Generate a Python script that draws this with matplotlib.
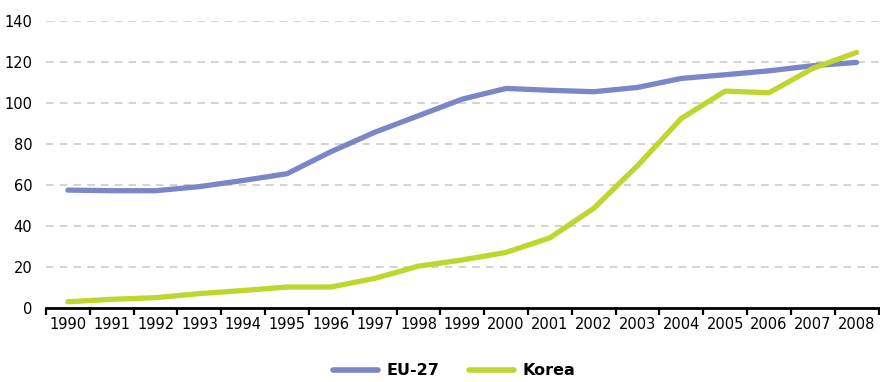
import matplotlib
matplotlib.use("Agg")
import matplotlib.pyplot as plt
import numpy as np

years = [str(y) for y in range(1990, 2009)]
eu27 = [57.3, 57.0, 57.0, 59.0, 62.0, 65.3, 76.0, 85.5, 93.6, 101.7,
        106.9, 106.0, 105.3, 107.4, 111.8, 113.6, 115.5, 118.0, 119.6]
korea = [2.8, 4.0, 4.8, 6.8, 8.3, 10.0, 10.0, 14.2, 20.2, 23.2,
         26.9, 34.0, 48.4, 69.2, 92.3, 105.6, 104.8, 116.7, 124.5]
yticks = [0, 20, 40, 60, 80, 100, 120, 140]

plt.rcParams["font.family"] = ["DejaVu Sans"]

fig = plt.figure(figsize=(8.8, 3.82), dpi=100)
ax = fig.add_axes([0.0523, 0.195, 0.946, 0.751])

x = np.arange(len(years))
ax.plot(x, eu27, color="#7b86c6", lw=3.8, solid_capstyle="round", label="EU-27", zorder=3)
ax.plot(x, korea, color="#bfd62e", lw=3.8, solid_capstyle="round", label="Korea", zorder=3)

ax.set_xlim(-0.5, len(years) - 0.5)
ax.set_ylim(0, 140)
ax.set_yticks(yticks)
ax.set_yticklabels([str(v) for v in yticks], fontsize=10.5)
ax.tick_params(axis="y", length=0, pad=10)

# category boundaries carry the tick marks, centres carry the labels
ax.set_xticks(np.arange(-0.5, len(years)), minor=False)
ax.set_xticklabels([])
ax.tick_params(axis="x", which="major", length=5, width=1.6, color="black", direction="out")
ax.set_xticks(x, minor=True)
ax.set_xticklabels(years, minor=True, fontsize=10.5)
ax.tick_params(axis="x", which="minor", length=0, pad=7)

ax.grid(axis="y", color="#c8c8c8", ls=(0, (5, 4)), lw=1.1)
ax.set_axisbelow(True)
for s in ["top", "right", "left"]:
    ax.spines[s].set_visible(False)
ax.spines["bottom"].set_linewidth(2)
ax.spines["bottom"].set_color("black")

leg = fig.legend(loc="lower center", bbox_to_anchor=(0.516, -0.028), ncol=2, frameon=False,
                 prop={"weight": "bold", "size": 11.5}, handlelength=2.8, columnspacing=1.9,
                 handletextpad=0.5)
for line in leg.get_lines():
    line.set_linewidth(4.0)

fig.savefig("out.png", dpi=100)
